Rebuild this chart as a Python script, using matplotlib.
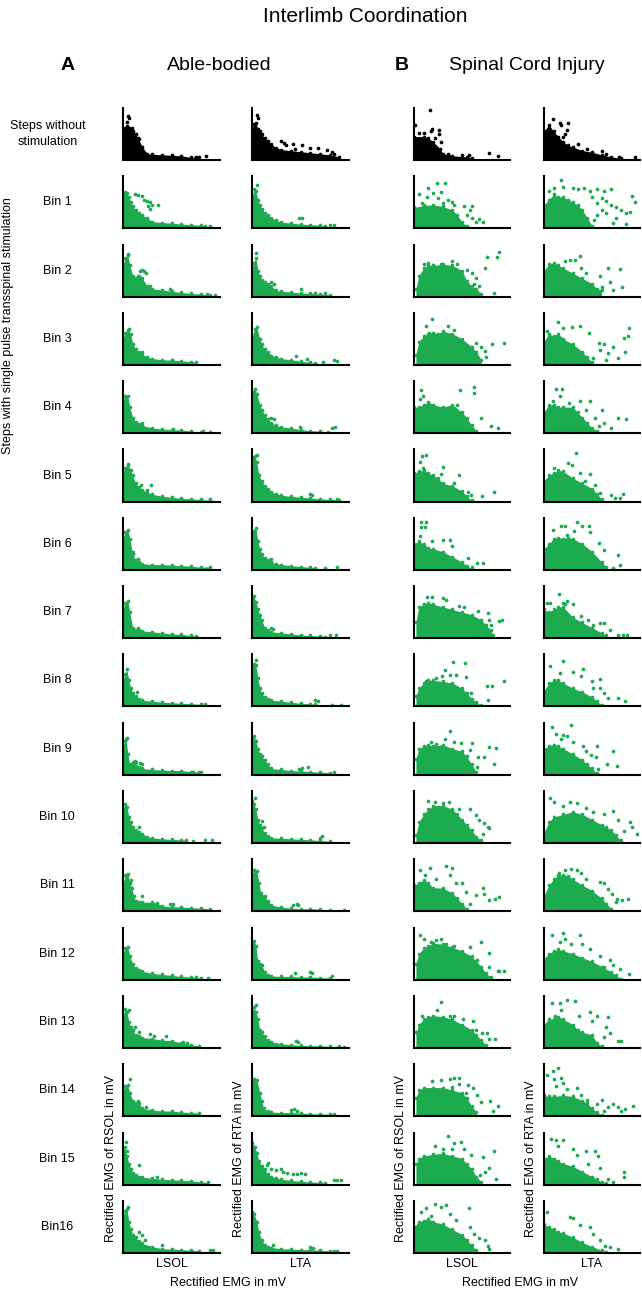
import matplotlib.pyplot as plt

plt.rcParams['font.family'] = ['Liberation Sans', 'DejaVu Sans']

# Values are relative (0..1) positions within each panel.
# *_EDGE: upper outline of the dense part of each cloud, one list per row.
# *_DOTS: isolated points above / beyond that dense part.
ROW_LABELS = ['Steps without\nstimulation'] + ['Bin %d' % i for i in range(1, 16)] + ['Bin16']
COL_MUSCLE = ['LSOL', 'LTA', 'LSOL', 'LTA']
COL_YLABEL = ['Rectified EMG of RSOL in mV', 'Rectified EMG of RTA in mV',
              'Rectified EMG of RSOL in mV', 'Rectified EMG of RTA in mV']

AB_LSOL_EDGE = [
    [(0,0.55),(0.02,0.62),(0.04,0.66),(0.06,0.62),(0.08,0.6),(0.1,0.55),(0.13,0.5),(0.16,0.4),(0.2,0.25),(0.25,0.12),(0.3,0.11),(0.4,0.1),(0.5,0.09),(0.6,0.08),(0.7,0.05),(0.74,0.03)],
    [(0,0.68),(0.02,0.7),(0.04,0.68),(0.06,0.6),(0.08,0.5),(0.1,0.42),(0.13,0.35),(0.16,0.3),(0.2,0.25),(0.25,0.2),(0.3,0.13),(0.4,0.11),(0.5,0.1),(0.6,0.08),(0.7,0.07),(0.8,0.06),(0.85,0.04)],
    [(0,0.6),(0.02,0.75),(0.05,0.8),(0.07,0.6),(0.1,0.4),(0.13,0.35),(0.16,0.4),(0.2,0.35),(0.25,0.2),(0.3,0.15),(0.4,0.13),(0.5,0.1),(0.6,0.08),(0.7,0.06),(0.8,0.05),(0.9,0.03)],
    [(0,0.5),(0.02,0.62),(0.05,0.68),(0.08,0.6),(0.1,0.4),(0.13,0.3),(0.16,0.25),(0.2,0.2),(0.25,0.15),(0.3,0.12),(0.4,0.1),(0.5,0.09),(0.6,0.08),(0.7,0.06),(0.75,0.05)],
    [(0,0.6),(0.02,0.7),(0.05,0.72),(0.07,0.5),(0.1,0.3),(0.13,0.22),(0.16,0.18),(0.2,0.15),(0.3,0.1),(0.4,0.08),(0.5,0.07),(0.6,0.06),(0.7,0.04),(0.8,0.03),(0.9,0.02)],
    [(0,0.55),(0.02,0.65),(0.05,0.7),(0.08,0.6),(0.1,0.5),(0.13,0.35),(0.16,0.28),(0.2,0.22),(0.25,0.18),(0.3,0.14),(0.4,0.1),(0.5,0.08),(0.6,0.06),(0.7,0.05),(0.8,0.04),(0.9,0.02)],
    [(0,0.6),(0.02,0.72),(0.05,0.77),(0.07,0.6),(0.1,0.3),(0.13,0.18),(0.16,0.15),(0.2,0.12),(0.3,0.1),(0.4,0.1),(0.5,0.09),(0.6,0.08),(0.7,0.07),(0.8,0.05),(0.9,0.06)],
    [(0,0.55),(0.02,0.68),(0.05,0.72),(0.07,0.5),(0.1,0.2),(0.13,0.16),(0.16,0.15),(0.2,0.14),(0.3,0.12),(0.4,0.1),(0.5,0.08),(0.6,0.07),(0.7,0.05),(0.75,0.04)],
    [(0,0.5),(0.02,0.62),(0.04,0.71),(0.06,0.5),(0.08,0.35),(0.1,0.25),(0.13,0.2),(0.16,0.15),(0.2,0.12),(0.3,0.1),(0.4,0.08),(0.5,0.07),(0.6,0.06),(0.7,0.05),(0.8,0.04)],
    [(0,0.55),(0.02,0.65),(0.03,0.68),(0.05,0.4),(0.07,0.2),(0.1,0.25),(0.13,0.25),(0.16,0.14),(0.2,0.12),(0.3,0.1),(0.4,0.09),(0.5,0.08),(0.6,0.08),(0.7,0.06),(0.8,0.05)],
    [(0,0.65),(0.02,0.75),(0.04,0.7),(0.06,0.5),(0.08,0.4),(0.1,0.3),(0.13,0.25),(0.16,0.22),(0.2,0.18),(0.25,0.12),(0.3,0.1),(0.4,0.08),(0.5,0.07),(0.6,0.06),(0.65,0.05)],
    [(0,0.5),(0.02,0.7),(0.05,0.72),(0.07,0.55),(0.09,0.45),(0.11,0.3),(0.13,0.2),(0.16,0.18),(0.2,0.18),(0.3,0.17),(0.35,0.16),(0.4,0.1),(0.5,0.09),(0.6,0.08),(0.7,0.07),(0.8,0.06),(0.9,0.05)],
    [(0,0.5),(0.02,0.6),(0.05,0.62),(0.07,0.45),(0.1,0.3),(0.13,0.22),(0.16,0.18),(0.2,0.16),(0.3,0.12),(0.4,0.1),(0.5,0.08),(0.6,0.06),(0.7,0.05),(0.8,0.03)],
    [(0,0.6),(0.02,0.75),(0.04,0.7),(0.06,0.5),(0.08,0.4),(0.1,0.35),(0.13,0.25),(0.16,0.22),(0.2,0.2),(0.3,0.18),(0.4,0.15),(0.5,0.14),(0.6,0.1),(0.7,0.06),(0.78,0.04)],
    [(0,0.5),(0.02,0.58),(0.05,0.6),(0.07,0.45),(0.1,0.3),(0.13,0.25),(0.16,0.2),(0.2,0.15),(0.3,0.12),(0.4,0.1),(0.5,0.1),(0.6,0.08),(0.7,0.07),(0.78,0.06)],
    [(0,0.65),(0.02,0.72),(0.04,0.55),(0.06,0.4),(0.08,0.3),(0.1,0.22),(0.13,0.18),(0.16,0.15),(0.2,0.14),(0.3,0.12),(0.4,0.1),(0.5,0.09),(0.6,0.08),(0.7,0.07),(0.8,0.05),(0.88,0.04)],
    [(0,0.7),(0.02,0.8),(0.04,0.85),(0.06,0.6),(0.08,0.45),(0.1,0.35),(0.13,0.3),(0.16,0.22),(0.2,0.18),(0.3,0.12),(0.4,0.08),(0.5,0.07),(0.6,0.06),(0.7,0.05),(0.78,0.04)],
]
AB_LSOL_DOTS = [
    [(0.05,0.84),(0.06,0.8),(0.04,0.74),(0.09,0.62),(0.15,0.42),(0.75,0.06),(0.78,0.06),(0.86,0.07)],
    [(0.12,0.66),(0.15,0.64),(0.2,0.62),(0.22,0.55),(0.25,0.52),(0.28,0.5),(0.3,0.45),(0.36,0.45),(0.26,0.42),(0.28,0.38),(0.9,0.05)],
    [(0.05,0.82),(0.18,0.5),(0.2,0.52),(0.22,0.5),(0.24,0.46),(0.15,0.4),(0.28,0.2),(0.48,0.14),(0.87,0.05),(0.95,0.04)],
    [(0.06,0.7),(0.2,0.25),(0.5,0.1)],
    [(0.02,0.72),(0.2,0.2),(0.52,0.08),(0.82,0.04)],
    [(0.05,0.72),(0.19,0.31),(0.29,0.32),(0.25,0.22),(0.9,0.04)],
    [(0.1,0.35),(0.15,0.2)],
    [(0.15,0.2)],
    [(0.14,0.28),(0.85,0.04)],
    [(0.04,0.7),(0.12,0.26),(0.18,0.23),(0.2,0.2),(0.72,0.06),(0.78,0.05)],
    [(0.17,0.3),(0.72,0.04),(0.85,0.05),(0.92,0.05)],
    [(0.08,0.6),(0.2,0.3),(0.48,0.15),(0.52,0.14)],
    [(0.75,0.05),(0.88,0.04)],
    [(0.06,0.72),(0.12,0.4),(0.16,0.3),(0.28,0.26),(0.32,0.22),(0.44,0.22),(0.62,0.12),(0.66,0.1)],
    [(0.07,0.72),(0.15,0.3),(0.17,0.25),(0.24,0.18)],
    [(0.03,0.82),(0.04,0.65),(0.16,0.38),(0.35,0.15)],
    [(0.05,0.88),(0.17,0.4),(0.2,0.35),(0.23,0.25),(0.4,0.15),(0.9,0.06),(0.93,0.06)],
]

AB_LTA_EDGE = [
    [(0,0.6),(0.02,0.7),(0.04,0.72),(0.06,0.6),(0.08,0.55),(0.1,0.5),(0.13,0.42),(0.16,0.36),(0.2,0.3),(0.25,0.24),(0.3,0.2),(0.4,0.18),(0.5,0.16),(0.6,0.14),(0.7,0.12),(0.8,0.1),(0.9,0.06)],
    [(0,0.6),(0.02,0.75),(0.04,0.72),(0.06,0.55),(0.08,0.45),(0.1,0.38),(0.13,0.3),(0.16,0.25),(0.2,0.2),(0.25,0.15),(0.3,0.12),(0.4,0.1),(0.5,0.08),(0.6,0.07),(0.7,0.06),(0.75,0.04)],
    [(0,0.55),(0.02,0.65),(0.04,0.75),(0.06,0.5),(0.08,0.4),(0.1,0.32),(0.13,0.28),(0.16,0.25),(0.2,0.2),(0.25,0.12),(0.3,0.1),(0.4,0.09),(0.5,0.07),(0.6,0.06),(0.7,0.05),(0.8,0.04)],
    [(0,0.55),(0.03,0.7),(0.05,0.72),(0.08,0.5),(0.1,0.4),(0.13,0.3),(0.16,0.25),(0.2,0.18),(0.25,0.15),(0.3,0.12),(0.4,0.1),(0.5,0.07),(0.6,0.05),(0.65,0.03)],
    [(0,0.8),(0.03,0.85),(0.05,0.75),(0.08,0.55),(0.1,0.45),(0.13,0.35),(0.16,0.28),(0.2,0.2),(0.25,0.15),(0.3,0.12),(0.4,0.1),(0.5,0.07),(0.6,0.05),(0.7,0.04),(0.78,0.03)],
    [(0,0.85),(0.03,0.88),(0.05,0.75),(0.07,0.5),(0.1,0.4),(0.13,0.3),(0.16,0.25),(0.2,0.18),(0.25,0.15),(0.3,0.12),(0.4,0.1),(0.5,0.08),(0.6,0.07),(0.7,0.05),(0.8,0.04),(0.9,0.03)],
    [(0,0.7),(0.02,0.75),(0.04,0.8),(0.06,0.55),(0.08,0.4),(0.1,0.3),(0.13,0.22),(0.16,0.18),(0.2,0.15),(0.25,0.12),(0.3,0.1),(0.4,0.08),(0.5,0.06),(0.6,0.05),(0.65,0.04)],
    [(0,0.75),(0.02,0.8),(0.04,0.7),(0.06,0.55),(0.08,0.45),(0.1,0.35),(0.13,0.2),(0.16,0.15),(0.2,0.12),(0.3,0.1),(0.4,0.08),(0.5,0.06),(0.6,0.05),(0.7,0.04),(0.75,0.03)],
    [(0,0.75),(0.02,0.82),(0.04,0.8),(0.06,0.55),(0.08,0.35),(0.1,0.25),(0.13,0.18),(0.16,0.14),(0.2,0.12),(0.3,0.1),(0.4,0.08),(0.5,0.06),(0.6,0.05),(0.65,0.04)],
    [(0,0.7),(0.02,0.75),(0.04,0.65),(0.06,0.5),(0.08,0.4),(0.1,0.35),(0.13,0.28),(0.16,0.2),(0.2,0.12),(0.3,0.1),(0.4,0.08),(0.5,0.07),(0.6,0.06),(0.7,0.05),(0.8,0.04)],
    [(0,0.8),(0.02,0.75),(0.04,0.65),(0.06,0.45),(0.08,0.35),(0.1,0.28),(0.13,0.2),(0.16,0.14),(0.2,0.1),(0.3,0.09),(0.4,0.08),(0.5,0.07),(0.6,0.06),(0.7,0.05),(0.8,0.03)],
    [(0,0.7),(0.02,0.8),(0.05,0.78),(0.07,0.55),(0.09,0.35),(0.13,0.3),(0.16,0.2),(0.2,0.12),(0.3,0.08),(0.4,0.06),(0.5,0.05),(0.6,0.05),(0.7,0.04),(0.8,0.03)],
    [(0,0.7),(0.02,0.75),(0.04,0.65),(0.06,0.35),(0.08,0.3),(0.1,0.28),(0.13,0.15),(0.16,0.08),(0.2,0.07),(0.3,0.06),(0.4,0.06),(0.5,0.05),(0.6,0.05),(0.7,0.04),(0.8,0.03)],
    [(0,0.7),(0.02,0.78),(0.04,0.7),(0.06,0.55),(0.08,0.35),(0.1,0.3),(0.13,0.22),(0.16,0.15),(0.2,0.12),(0.3,0.08),(0.4,0.06),(0.5,0.05),(0.6,0.04),(0.7,0.04),(0.8,0.03),(0.9,0.03),(0.95,0.02)],
    [(0,0.65),(0.02,0.72),(0.05,0.7),(0.08,0.45),(0.1,0.3),(0.12,0.15),(0.16,0.1),(0.2,0.08),(0.3,0.07),(0.4,0.07),(0.5,0.06),(0.6,0.05),(0.7,0.04),(0.8,0.04)],
    [(0,0.8),(0.03,0.72),(0.05,0.6),(0.07,0.45),(0.1,0.35),(0.13,0.3),(0.16,0.2),(0.2,0.15),(0.25,0.12),(0.3,0.1),(0.4,0.08),(0.5,0.06),(0.6,0.05),(0.7,0.04),(0.75,0.03)],
    [(0,0.78),(0.02,0.75),(0.05,0.6),(0.07,0.4),(0.1,0.25),(0.13,0.15),(0.16,0.12),(0.2,0.1),(0.3,0.08),(0.4,0.07),(0.5,0.06),(0.6,0.06),(0.7,0.05),(0.8,0.04),(0.85,0.03)],
]
AB_LTA_DOTS = [
    [(0.05,0.86),(0.06,0.8),(0.3,0.36),(0.33,0.33),(0.35,0.29),(0.42,0.3),(0.44,0.22),(0.52,0.28),(0.6,0.23),(0.68,0.24),(0.77,0.2),(0.82,0.16),(0.85,0.12)],
    [(0.05,0.83),(0.48,0.2),(0.52,0.19),(0.8,0.06),(0.85,0.06)],
    [(0.04,0.84),(0.2,0.28),(0.23,0.25),(0.5,0.15),(0.65,0.07),(0.75,0.07)],
    [(0.45,0.18),(0.57,0.12),(0.73,0.06),(0.85,0.1),(0.88,0.07)],
    [(0.2,0.3),(0.23,0.28),(0.49,0.12),(0.82,0.1),(0.86,0.12)],
    [(0.05,0.9),(0.6,0.15),(0.62,0.13),(0.88,0.05)],
    [(0.2,0.2),(0.75,0.03),(0.88,0.05)],
    [(0.2,0.2),(0.22,0.18),(0.8,0.05),(0.87,0.05)],
    [(0.04,0.9),(0.65,0.12),(0.68,0.11),(0.82,0.03),(0.92,0.03)],
    [(0.48,0.1),(0.52,0.12),(0.58,0.15),(0.85,0.05)],
    [(0.03,0.87),(0.1,0.42),(0.12,0.3),(0.7,0.1),(0.72,0.14)],
    [(0.42,0.13),(0.46,0.15),(0.47,0.13),(0.95,0.02)],
    [(0.44,0.12),(0.6,0.15),(0.62,0.12),(0.82,0.06)],
    [(0.04,0.82),(0.45,0.13),(0.47,0.12)],
    [(0.4,0.12),(0.43,0.13),(0.46,0.1),(0.85,0.05)],
    [(0.15,0.38),(0.17,0.42),(0.2,0.3),(0.25,0.28),(0.3,0.3),(0.32,0.25),(0.36,0.22),(0.42,0.2),(0.46,0.2),(0.5,0.22),(0.55,0.2),(0.85,0.08),(0.88,0.08),(0.92,0.08)],
    [(0.22,0.15),(0.6,0.12),(0.63,0.1),(0.88,0.04)],
]

SCI_LSOL_EDGE = [
    [(0,0.45),(0.1,0.45),(0.15,0.42),(0.2,0.35),(0.27,0.22),(0.3,0.12),(0.35,0.1),(0.4,0.08),(0.55,0.06),(0.6,0.04)],
    [(0,0.4),(0.1,0.44),(0.2,0.45),(0.3,0.42),(0.4,0.35),(0.45,0.25),(0.5,0.12),(0.55,0.05)],
    [(0.02,0.15),(0.05,0.4),(0.1,0.55),(0.15,0.6),(0.2,0.6),(0.3,0.62),(0.4,0.6),(0.5,0.5),(0.55,0.3),(0.6,0.2),(0.65,0.15),(0.7,0.05)],
    [(0.02,0.2),(0.05,0.45),(0.1,0.55),(0.15,0.6),(0.2,0.62),(0.25,0.6),(0.3,0.65),(0.4,0.6),(0.5,0.5),(0.6,0.35),(0.65,0.25),(0.7,0.1)],
    [(0,0.5),(0.05,0.5),(0.1,0.55),(0.15,0.6),(0.2,0.55),(0.3,0.5),(0.4,0.55),(0.5,0.4),(0.55,0.3),(0.6,0.15),(0.65,0.05)],
    [(0,0.55),(0.05,0.58),(0.1,0.6),(0.15,0.55),(0.2,0.5),(0.25,0.45),(0.3,0.35),(0.4,0.3),(0.5,0.2),(0.55,0.1),(0.6,0.02)],
    [(0,0.5),(0.05,0.55),(0.1,0.5),(0.15,0.42),(0.2,0.4),(0.3,0.35),(0.4,0.25),(0.5,0.15),(0.55,0.08),(0.6,0.02)],
    [(0.02,0.3),(0.05,0.6),(0.1,0.65),(0.15,0.68),(0.2,0.65),(0.3,0.6),(0.4,0.55),(0.5,0.5),(0.6,0.45),(0.7,0.35),(0.75,0.25),(0.8,0.15),(0.82,0.05)],
    [(0.02,0.2),(0.05,0.35),(0.1,0.45),(0.15,0.5),(0.2,0.5),(0.3,0.48),(0.4,0.45),(0.5,0.35),(0.55,0.25),(0.6,0.15),(0.65,0.08),(0.7,0.02)],
    [(0.02,0.3),(0.05,0.5),(0.1,0.55),(0.15,0.58),(0.2,0.55),(0.3,0.58),(0.4,0.5),(0.5,0.45),(0.55,0.35),(0.6,0.2),(0.65,0.05)],
    [(0.02,0.15),(0.05,0.4),(0.1,0.55),(0.15,0.65),(0.2,0.72),(0.3,0.72),(0.4,0.65),(0.45,0.55),(0.5,0.45),(0.55,0.35),(0.6,0.25),(0.65,0.12),(0.7,0.05)],
    [(0,0.5),(0.05,0.55),(0.1,0.6),(0.15,0.55),(0.2,0.45),(0.3,0.45),(0.4,0.35),(0.45,0.25),(0.5,0.15),(0.55,0.05)],
    [(0.02,0.3),(0.05,0.5),(0.1,0.6),(0.15,0.65),(0.2,0.7),(0.3,0.68),(0.4,0.62),(0.5,0.55),(0.6,0.45),(0.65,0.35),(0.7,0.25),(0.75,0.12),(0.8,0.05)],
    [(0.02,0.3),(0.05,0.45),(0.1,0.55),(0.15,0.6),(0.2,0.62),(0.3,0.6),(0.4,0.55),(0.5,0.45),(0.6,0.35),(0.65,0.25),(0.7,0.15),(0.75,0.05)],
    [(0.02,0.35),(0.05,0.5),(0.1,0.55),(0.2,0.55),(0.3,0.55),(0.4,0.5),(0.5,0.45),(0.55,0.35),(0.6,0.2),(0.65,0.08)],
    [(0.02,0.4),(0.05,0.5),(0.1,0.55),(0.2,0.58),(0.3,0.6),(0.4,0.55),(0.5,0.5),(0.55,0.4),(0.6,0.3),(0.65,0.15),(0.7,0.05)],
    [(0,0.5),(0.05,0.6),(0.1,0.62),(0.15,0.65),(0.2,0.6),(0.3,0.55),(0.4,0.45),(0.5,0.35),(0.55,0.25),(0.6,0.15),(0.65,0.05)],
]
SCI_LSOL_DOTS = [
    [(0.17,0.96),(0.01,0.67),(0.05,0.52),(0.1,0.52),(0.18,0.55),(0.19,0.6),(0.26,0.57),(0.26,0.5),(0.22,0.42),(0.28,0.35),(0.35,0.12),(0.5,0.1),(0.57,0.1),(0.78,0.13),(0.88,0.07)],
    [(0.24,0.88),(0.32,0.87),(0.15,0.78),(0.05,0.65),(0.2,0.68),(0.28,0.7),(0.14,0.6),(0.25,0.58),(0.35,0.55),(0.3,0.48),(0.42,0.45),(0.52,0.42),(0.6,0.42),(0.58,0.35),(0.55,0.25),(0.6,0.2),(0.68,0.17),(0.72,0.12),(0.65,0.12),(0.08,0.48),(0.4,0.5)],
    [(0.1,0.62),(0.15,0.65),(0.2,0.6),(0.28,0.62),(0.4,0.68),(0.45,0.62),(0.55,0.52),(0.6,0.45),(0.65,0.35),(0.62,0.25),(0.68,0.2),(0.76,0.76),(0.74,0.55),(0.86,0.76),(0.89,0.85),(0.83,0.06)],
    [(0.19,0.88),(0.12,0.74),(0.16,0.61),(0.35,0.74),(0.42,0.68),(0.65,0.42),(0.74,0.26),(0.75,0.16),(0.81,0.41),(0.94,0.42),(0.7,0.35)],
    [(0.07,0.83),(0.09,0.72),(0.06,0.65),(0.48,0.83),(0.62,0.89),(0.62,0.77),(0.45,0.55),(0.7,0.29),(0.8,0.13),(0.87,0.1)],
    [(0.08,0.87),(0.13,0.9),(0.06,0.75),(0.09,0.65),(0.3,0.66),(0.28,0.52),(0.47,0.5),(0.42,0.35),(0.56,0.19),(0.71,0.11),(0.83,0.19),(0.59,0.13)],
    [(0.07,0.92),(0.12,0.92),(0.07,0.83),(0.11,0.83),(0.06,0.65),(0.19,0.55),(0.3,0.58),(0.38,0.58),(0.4,0.45),(0.56,0.23),(0.66,0.14),(0.72,0.14),(0.6,0.06)],
    [(0.14,0.79),(0.19,0.79),(0.3,0.77),(0.33,0.74),(0.47,0.61),(0.52,0.6),(0.67,0.52),(0.77,0.48),(0.78,0.35),(0.89,0.32),(0.92,0.35),(0.8,0.26),(0.68,0.19)],
    [(0.41,0.85),(0.53,0.84),(0.32,0.7),(0.37,0.61),(0.44,0.61),(0.29,0.59),(0.13,0.48),(0.23,0.55),(0.54,0.57),(0.76,0.39),(0.81,0.39),(0.94,0.48),(0.59,0.26),(0.77,0.12)],
    [(0.38,0.84),(0.32,0.69),(0.18,0.62),(0.23,0.59),(0.42,0.63),(0.49,0.61),(0.6,0.61),(0.58,0.48),(0.67,0.34),(0.73,0.34),(0.78,0.54),(0.85,0.52),(0.83,0.21),(0.66,0.14)],
    [(0.15,0.81),(0.22,0.78),(0.3,0.76),(0.36,0.78),(0.47,0.66),(0.58,0.66),(0.65,0.53),(0.68,0.45),(0.73,0.39),(0.77,0.31),(0.78,0.28),(0.72,0.17)],
    [(0.17,0.83),(0.33,0.88),(0.4,0.83),(0.06,0.79),(0.11,0.69),(0.23,0.62),(0.37,0.69),(0.44,0.54),(0.5,0.55),(0.54,0.38),(0.65,0.31),(0.72,0.45),(0.73,0.34),(0.78,0.21),(0.84,0.24),(0.89,0.28),(0.58,0.14)],
    [(0.06,0.86),(0.1,0.79),(0.18,0.72),(0.23,0.77),(0.28,0.79),(0.19,0.64),(0.33,0.69),(0.42,0.64),(0.45,0.52),(0.58,0.62),(0.7,0.72),(0.78,0.52),(0.66,0.37),(0.78,0.24),(0.87,0.17),(0.94,0.16),(0.89,0.16)],
    [(0.28,0.88),(0.24,0.72),(0.08,0.62),(0.37,0.62),(0.42,0.62),(0.51,0.55),(0.61,0.52),(0.65,0.34),(0.71,0.28),(0.76,0.29),(0.78,0.17),(0.84,0.17),(0.7,0.1)],
    [(0.19,0.67),(0.28,0.69),(0.37,0.72),(0.42,0.74),(0.47,0.74),(0.47,0.62),(0.4,0.57),(0.56,0.6),(0.61,0.55),(0.54,0.45),(0.66,0.41),(0.7,0.28),(0.79,0.3),(0.87,0.19),(0.82,0.1)],
    [(0.22,0.74),(0.3,0.69),(0.35,0.93),(0.42,0.79),(0.49,0.82),(0.4,0.68),(0.52,0.68),(0.59,0.57),(0.72,0.52),(0.83,0.64),(0.78,0.32),(0.74,0.25),(0.85,0.11),(0.69,0.18)],
    [(0.07,0.79),(0.13,0.86),(0.22,0.93),(0.28,0.89),(0.33,0.91),(0.18,0.71),(0.37,0.75),(0.44,0.64),(0.57,0.87),(0.58,0.5),(0.63,0.36),(0.68,0.29),(0.74,0.25),(0.77,0.14),(0.78,0.07)],
]

SCI_LTA_EDGE = [
    [(0,0.55),(0.05,0.68),(0.1,0.55),(0.15,0.45),(0.2,0.35),(0.25,0.28),(0.3,0.25),(0.4,0.18),(0.5,0.15),(0.6,0.1),(0.7,0.06),(0.8,0.03)],
    [(0,0.45),(0.05,0.55),(0.1,0.65),(0.15,0.6),(0.2,0.6),(0.25,0.55),(0.3,0.5),(0.35,0.45),(0.4,0.35),(0.45,0.2),(0.5,0.05)],
    [(0,0.5),(0.05,0.62),(0.1,0.65),(0.15,0.6),(0.2,0.55),(0.3,0.45),(0.4,0.35),(0.5,0.25),(0.55,0.15),(0.6,0.12)],
    [(0,0.45),(0.05,0.6),(0.1,0.55),(0.15,0.6),(0.2,0.5),(0.3,0.4),(0.4,0.25),(0.45,0.15),(0.5,0.05)],
    [(0,0.4),(0.05,0.55),(0.1,0.55),(0.15,0.5),(0.2,0.5),(0.3,0.5),(0.35,0.4),(0.4,0.3),(0.45,0.2),(0.5,0.1),(0.55,0.05)],
    [(0,0.4),(0.05,0.5),(0.1,0.55),(0.15,0.6),(0.2,0.58),(0.3,0.45),(0.4,0.35),(0.5,0.25),(0.55,0.15),(0.6,0.05)],
    [(0,0.4),(0.05,0.5),(0.1,0.6),(0.15,0.62),(0.2,0.6),(0.25,0.62),(0.3,0.6),(0.4,0.5),(0.5,0.35),(0.6,0.15),(0.65,0.05)],
    [(0,0.55),(0.05,0.5),(0.1,0.55),(0.15,0.6),(0.2,0.6),(0.3,0.4),(0.4,0.3),(0.5,0.2),(0.6,0.1),(0.65,0.05)],
    [(0,0.3),(0.05,0.45),(0.1,0.5),(0.15,0.5),(0.2,0.45),(0.3,0.35),(0.4,0.28),(0.5,0.18),(0.55,0.1),(0.6,0.03)],
    [(0,0.5),(0.05,0.55),(0.1,0.58),(0.15,0.55),(0.2,0.5),(0.3,0.4),(0.4,0.28),(0.45,0.2),(0.5,0.12),(0.55,0.03)],
    [(0,0.2),(0.05,0.4),(0.1,0.5),(0.2,0.55),(0.3,0.6),(0.4,0.55),(0.5,0.45),(0.6,0.35),(0.7,0.25),(0.75,0.15),(0.8,0.05)],
    [(0,0.3),(0.05,0.5),(0.1,0.62),(0.15,0.7),(0.2,0.7),(0.25,0.68),(0.3,0.62),(0.4,0.5),(0.5,0.4),(0.6,0.25),(0.65,0.15),(0.7,0.05)],
    [(0,0.4),(0.05,0.5),(0.1,0.55),(0.15,0.58),(0.2,0.55),(0.3,0.5),(0.4,0.42),(0.5,0.35),(0.6,0.25),(0.7,0.15),(0.75,0.08),(0.8,0.02)],
    [(0,0.45),(0.05,0.55),(0.1,0.55),(0.15,0.6),(0.2,0.55),(0.3,0.45),(0.35,0.35),(0.4,0.3),(0.5,0.25),(0.55,0.1),(0.6,0.03)],
    [(0,0.4),(0.05,0.38),(0.1,0.38),(0.2,0.4),(0.3,0.38),(0.4,0.3),(0.45,0.25),(0.5,0.15),(0.55,0.08),(0.6,0.02)],
    [(0,0.5),(0.05,0.55),(0.1,0.5),(0.15,0.45),(0.2,0.4),(0.3,0.35),(0.4,0.25),(0.5,0.15),(0.55,0.1),(0.6,0.05),(0.65,0.02)],
    [(0,0.55),(0.05,0.5),(0.1,0.45),(0.15,0.4),(0.2,0.38),(0.3,0.3),(0.4,0.2),(0.5,0.12),(0.6,0.05),(0.65,0.02)],
]
SCI_LTA_DOTS = [
    [(0.09,0.78),(0.17,0.72),(0.18,0.68),(0.25,0.72),(0.24,0.58),(0.22,0.5),(0.2,0.45),(0.35,0.3),(0.45,0.22),(0.6,0.18),(0.65,0.12),(0.78,0.06),(0.95,0.06)],
    [(0.18,0.92),(0.05,0.72),(0.1,0.78),(0.2,0.8),(0.3,0.78),(0.35,0.75),(0.42,0.78),(0.48,0.72),(0.55,0.75),(0.62,0.72),(0.7,0.75),(0.92,0.62),(0.5,0.6),(0.6,0.58),(0.65,0.52),(0.55,0.48),(0.7,0.45),(0.75,0.4),(0.8,0.35),(0.85,0.3),(0.9,0.32),(0.6,0.35),(0.65,0.3),(0.55,0.25),(0.75,0.2),(0.72,0.1),(0.85,0.08),(0.95,0.5),(0.52,0.15),(0.45,0.1)],
    [(0.37,0.79),(0.32,0.71),(0.27,0.7),(0.22,0.68),(0.39,0.55),(0.67,0.55),(0.79,0.53),(0.44,0.45),(0.58,0.39),(0.69,0.29),(0.6,0.19),(0.81,0.19),(0.72,0.13),(0.58,0.1)],
    [(0.15,0.82),(0.03,0.66),(0.2,0.71),(0.29,0.73),(0.37,0.74),(0.47,0.61),(0.57,0.43),(0.62,0.41),(0.58,0.29),(0.67,0.23),(0.72,0.35),(0.77,0.13),(0.83,0.52),(0.89,0.71),(0.88,0.55),(0.84,0.24),(0.65,0.1),(0.51,0.13)],
    [(0.13,0.85),(0.19,0.85),(0.17,0.71),(0.09,0.61),(0.26,0.58),(0.37,0.61),(0.48,0.61),(0.44,0.45),(0.6,0.45),(0.53,0.29),(0.63,0.19),(0.7,0.1),(0.77,0.29),(0.85,0.28),(0.57,0.13)],
    [(0.33,0.94),(0.25,0.74),(0.29,0.71),(0.1,0.65),(0.38,0.55),(0.48,0.52),(0.43,0.39),(0.53,0.32),(0.58,0.16),(0.7,0.13),(0.79,0.06),(0.82,0.15),(0.74,0.06)],
    [(0.09,0.76),(0.18,0.85),(0.22,0.85),(0.34,0.92),(0.4,0.85),(0.47,0.85),(0.48,0.72),(0.31,0.74),(0.24,0.66),(0.57,0.52),(0.62,0.39),(0.77,0.29),(0.79,0.1),(0.72,0.03)],
    [(0.16,0.84),(0.03,0.68),(0.06,0.68),(0.22,0.65),(0.2,0.68),(0.24,0.71),(0.3,0.65),(0.39,0.42),(0.46,0.35),(0.51,0.26),(0.58,0.29),(0.63,0.29),(0.69,0.16),(0.77,0.06),(0.82,0.06),(0.86,0.06)],
    [(0.06,0.77),(0.2,0.87),(0.17,0.65),(0.3,0.66),(0.39,0.59),(0.41,0.71),(0.5,0.48),(0.58,0.53),(0.51,0.35),(0.62,0.25),(0.67,0.16),(0.77,0.16),(0.84,0.11),(0.58,0.35)],
    [(0.28,0.95),(0.08,0.91),(0.13,0.79),(0.2,0.77),(0.24,0.74),(0.18,0.69),(0.3,0.63),(0.41,0.55),(0.55,0.55),(0.44,0.45),(0.49,0.38),(0.54,0.34),(0.72,0.45),(0.66,0.21),(0.76,0.17),(0.56,0.1)],
    [(0.06,0.86),(0.1,0.78),(0.2,0.71),(0.27,0.78),(0.34,0.76),(0.44,0.67),(0.51,0.59),(0.62,0.55),(0.72,0.62),(0.77,0.45),(0.9,0.41),(0.92,0.31),(0.97,0.17),(0.83,0.24),(0.65,0.31)],
    [(0.22,0.79),(0.28,0.81),(0.34,0.79),(0.39,0.74),(0.16,0.74),(0.44,0.62),(0.58,0.57),(0.62,0.54),(0.67,0.43),(0.71,0.34),(0.76,0.24),(0.81,0.22),(0.87,0.24),(0.75,0.17)],
    [(0.08,0.86),(0.2,0.9),(0.22,0.79),(0.17,0.72),(0.28,0.69),(0.38,0.86),(0.4,0.69),(0.48,0.59),(0.58,0.45),(0.69,0.38),(0.72,0.28),(0.79,0.21),(0.89,0.1),(0.62,0.24)],
    [(0.08,0.86),(0.17,0.86),(0.24,0.93),(0.32,0.91),(0.18,0.72),(0.11,0.62),(0.36,0.62),(0.48,0.69),(0.55,0.62),(0.5,0.52),(0.67,0.59),(0.65,0.41),(0.69,0.28),(0.62,0.21),(0.77,0.14),(0.8,0.14)],
    [(0.03,0.79),(0.09,0.86),(0.15,0.92),(0.1,0.72),(0.18,0.74),(0.2,0.64),(0.13,0.59),(0.24,0.52),(0.34,0.55),(0.39,0.41),(0.45,0.31),(0.55,0.24),(0.6,0.31),(0.67,0.17),(0.72,0.24),(0.77,0.17),(0.84,0.14),(0.93,0.19),(0.8,0.1),(0.62,0.1)],
    [(0.07,0.88),(0.13,0.86),(0.2,0.86),(0.15,0.75),(0.3,0.69),(0.34,0.57),(0.44,0.64),(0.53,0.64),(0.56,0.54),(0.46,0.39),(0.58,0.32),(0.83,0.25),(0.83,0.14),(0.67,0.11),(0.72,0.04)],
    [(0.03,0.79),(0.27,0.68),(0.3,0.66),(0.38,0.54),(0.48,0.5),(0.51,0.36),(0.58,0.25),(0.64,0.14),(0.69,0.11),(0.77,0.07)],
]

W, H = 642, 1300
GREEN = '#1cab4e'
COL_LEFT = [123, 252, 414, 544]
COL_W = [97, 97, 96, 96]
ROW_TOP0, ROW_STEP, ROW_H = 108, 68.3, 52


def fx(px):
    return px / W


def fy(py):
    return 1 - py / H


fig = plt.figure(figsize=(W / 100, H / 100), dpi=100)

columns = [(AB_LSOL_EDGE, AB_LSOL_DOTS), (AB_LTA_EDGE, AB_LTA_DOTS),
           (SCI_LSOL_EDGE, SCI_LSOL_DOTS), (SCI_LTA_EDGE, SCI_LTA_DOTS)]

for c, (edges, dots) in enumerate(columns):
    for r in range(len(ROW_LABELS)):
        top = ROW_TOP0 + r * ROW_STEP
        ax = fig.add_axes([fx(COL_LEFT[c]), fy(top + ROW_H), COL_W[c] / W, ROW_H / H])
        color = 'black' if r == 0 else GREEN
        ex = [p[0] for p in edges[r]]
        ey = [p[1] for p in edges[r]]
        ax.fill_between(ex, 0, ey, color=color, lw=0)
        ax.scatter(ex, ey, s=7, color=color, lw=0)
        ax.scatter([p[0] for p in dots[r]], [p[1] for p in dots[r]], s=7, color=color, lw=0)
        ax.set_xlim(0, 1)
        ax.set_ylim(0, 1)
        for s in ['top', 'right']:
            ax.spines[s].set_visible(False)
        for s in ['left', 'bottom']:
            ax.spines[s].set_linewidth(1.5)
        ax.set_xticks([])
        ax.set_yticks([])
        ax.patch.set_alpha(0)

# row labels
for r, lab in enumerate(ROW_LABELS):
    top = ROW_TOP0 + r * ROW_STEP
    x = 48 if r == 0 else 57
    fig.text(fx(x), fy(top + ROW_H / 2), lab, ha='center', va='center', fontsize=9, linespacing=1.35)

fig.text(fx(8), fy(326), 'Steps with single pulse transspinal stimulation',
         rotation=90, ha='center', va='center', fontsize=9)

# axis labels at the bottom
ylab_mid = ROW_TOP0 + 14 * ROW_STEP + (2 * ROW_STEP + ROW_H) / 2
for c in range(4):
    fig.text(fx(COL_LEFT[c] - 12.5), fy(ylab_mid), COL_YLABEL[c], rotation=90,
             ha='center', va='center', fontsize=9)
    fig.text(fx(COL_LEFT[c] + COL_W[c] / 2), fy(1264), COL_MUSCLE[c],
             ha='center', va='center', fontsize=9)
fig.text(fx(228), fy(1283), 'Rectified EMG in mV', ha='center', va='center', fontsize=9)
fig.text(fx(520), fy(1283), 'Rectified EMG in mV', ha='center', va='center', fontsize=9)

# headers
fig.text(fx(365), fy(16), 'Interlimb Coordination', ha='center', va='center', fontsize=15)
fig.text(fx(68), fy(66), 'A', ha='center', va='center', fontsize=14, fontweight='bold')
fig.text(fx(219), fy(66), 'Able-bodied', ha='center', va='center', fontsize=14)
fig.text(fx(402), fy(66), 'B', ha='center', va='center', fontsize=14, fontweight='bold')
fig.text(fx(527), fy(66), 'Spinal Cord Injury', ha='center', va='center', fontsize=14)

fig.savefig('out.png', dpi=100)
